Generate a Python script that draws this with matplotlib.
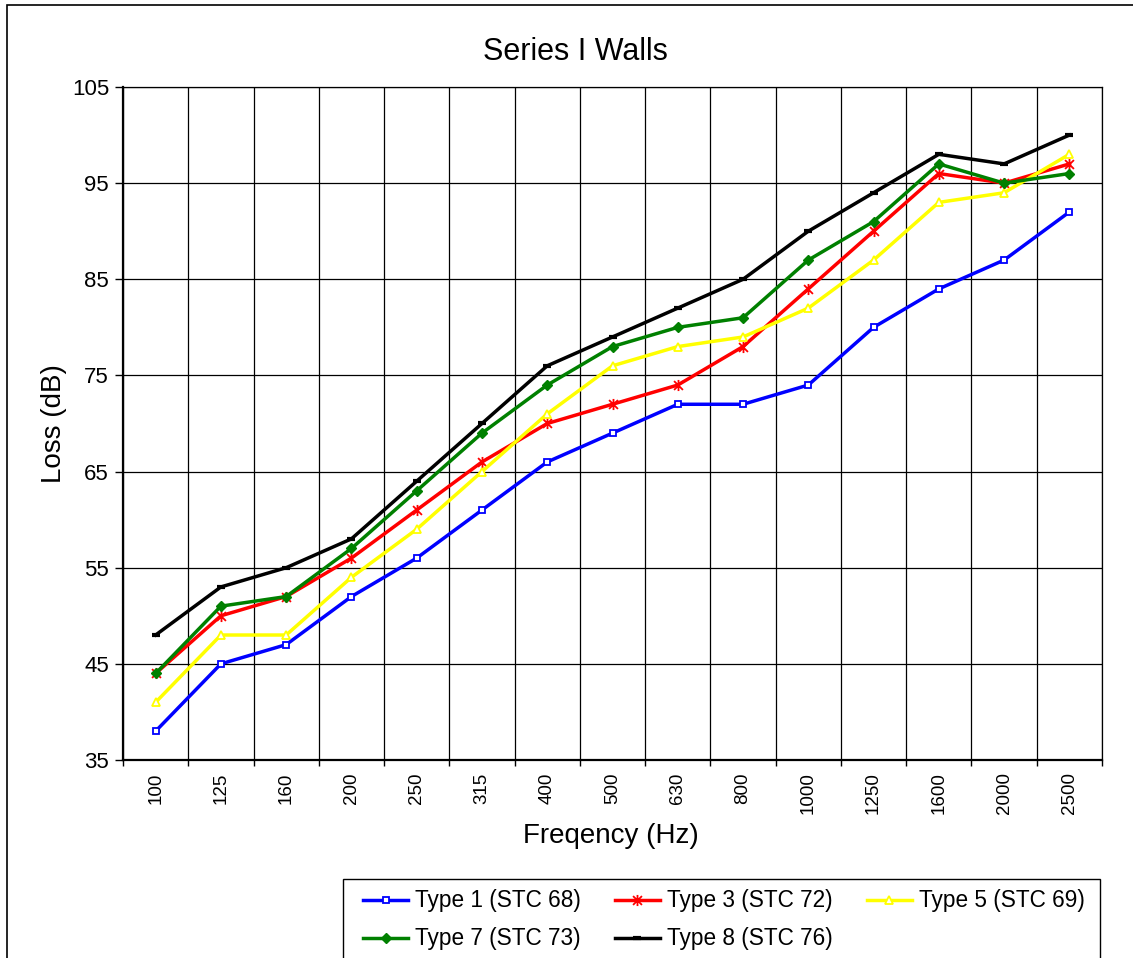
import matplotlib
matplotlib.use("Agg")
import matplotlib.pyplot as plt
from matplotlib.path import Path
from matplotlib.patches import Rectangle
import numpy as np

freqs = ["100", "125", "160", "200", "250", "315", "400", "500", "630",
         "800", "1000", "1250", "1600", "2000", "2500"]
type1 = [38, 45, 47, 52, 56, 61, 66, 69, 72, 72, 74, 80, 84, 87, 92]
type3 = [44, 50, 52, 56, 61, 66, 70, 72, 74, 78, 84, 90, 96, 95, 97]
type5 = [41, 48, 48, 54, 59, 65, 71, 76, 78, 79, 82, 87, 93, 94, 98]
type7 = [44, 51, 52, 57, 63, 69, 74, 78, 80, 81, 87, 91, 97, 95, 96]
type8 = [48, 53, 55, 58, 64, 70, 76, 79, 82, 85, 90, 94, 98, 97, 100]
labels = ["Type 1 (STC 68)", "Type 3 (STC 72)", "Type 5 (STC 69)",
          "Type 7 (STC 73)", "Type 8 (STC 76)"]
yticks = [35, 45, 55, 65, 75, 85, 95, 105]

plt.rcParams['font.family'] = ['Liberation Sans', 'DejaVu Sans']

W, H = 1133, 958
fig = plt.figure(figsize=(W / 100, H / 100), dpi=100)
fig.patch.set_facecolor('white')

# outer chart border (cropped at right/bottom)
fig.add_artist(Rectangle((7 / W, -0.05), 1.2, 1 - 5 / H + 0.05,
                         transform=fig.transFigure, fill=False,
                         edgecolor='black', lw=1.2))
# legend box (cropped at bottom)
fig.add_artist(Rectangle((343 / W, -0.05), (1100 - 343) / W,
                         (958 - 879) / H + 0.05,
                         transform=fig.transFigure, fill=False,
                         edgecolor='black', lw=1.0))

ax = fig.add_axes([123 / W, 1 - 760 / H, (1102 - 123) / W, (760 - 87) / H])
x = np.arange(len(freqs))

star = Path([(-1, -1), (1, 1), (-1, 1), (1, -1), (0, -1.25), (0, 1.25)],
            [Path.MOVETO, Path.LINETO, Path.MOVETO, Path.LINETO,
             Path.MOVETO, Path.LINETO])

lw = 2.5
h1, = ax.plot(x, type1, color='#0000FF', lw=lw, marker='s', ms=5,
              mfc='white', mec='#0000FF', mew=1.3, label=labels[0])
h3, = ax.plot(x, type3, color='#FF0000', lw=lw, marker=star, ms=8,
              mfc='none', mec='#FF0000', mew=1.3, label=labels[1])
h5, = ax.plot(x, type5, color='#FFFF00', lw=lw, marker='^', ms=6,
              mfc='white', mec='#FFFF00', mew=1.3, label=labels[2])
h7, = ax.plot(x, type7, color='#008000', lw=lw, marker='D', ms=5,
              mfc='#008000', mec='#008000', mew=1, label=labels[3])
h8, = ax.plot(x, type8, color='black', lw=lw, marker='_', ms=6,
              mec='black', mew=3, label=labels[4])

ax.set_xlim(-0.5, len(freqs) - 0.5)
ax.set_ylim(35, 105)
ax.set_yticks(yticks)
ax.set_yticklabels([str(v) for v in yticks], fontsize=16)
ax.set_xticks(x)
ax.set_xticklabels(freqs, rotation=90, fontsize=13.5)
ax.set_xticks(np.arange(-0.5, len(freqs), 1.0), minor=True)
ax.tick_params(axis='x', which='major', length=0, pad=9)
ax.tick_params(axis='x', which='minor', length=4, width=1, direction='out')
ax.tick_params(axis='y', which='major', length=6, width=1, pad=4,
               direction='out')
ax.grid(True, axis='y', which='major', color='black', lw=0.9)
ax.grid(True, axis='x', which='minor', color='black', lw=0.9)
ax.set_axisbelow(True)
for s in ['left', 'bottom']:
    ax.spines[s].set_linewidth(1.6)
for s in ['top', 'right']:
    ax.spines[s].set_linewidth(0.9)

fig.text(575 / W, 1 - 52 / H, "Series I Walls", fontsize=22,
         ha='center', va='center')
fig.text(54 / W, 1 - 424 / H, "Loss (dB)", fontsize=20, rotation=90,
         ha='center', va='center')
fig.text(611 / W, 1 - 836 / H, "Freqency (Hz)", fontsize=20,
         ha='center', va='center')

# order so that column-wise filling gives row-wise reading order
order = [0, 3, 1, 4, 2]
handles = [h1, h3, h5, h7, h8]
leg = fig.legend(handles=[handles[i] for i in order],
                 labels=[labels[i] for i in order], ncol=3,
                 loc='upper left',
                 bbox_to_anchor=(363 / W, 1 - 889.5 / H),
                 frameon=False, prop={'size': 16.3},
                 handlelength=1.99, handletextpad=0.31, columnspacing=1.5,
                 borderpad=0, labelspacing=0.66, borderaxespad=0)

fig.savefig("out.png", dpi=100)
